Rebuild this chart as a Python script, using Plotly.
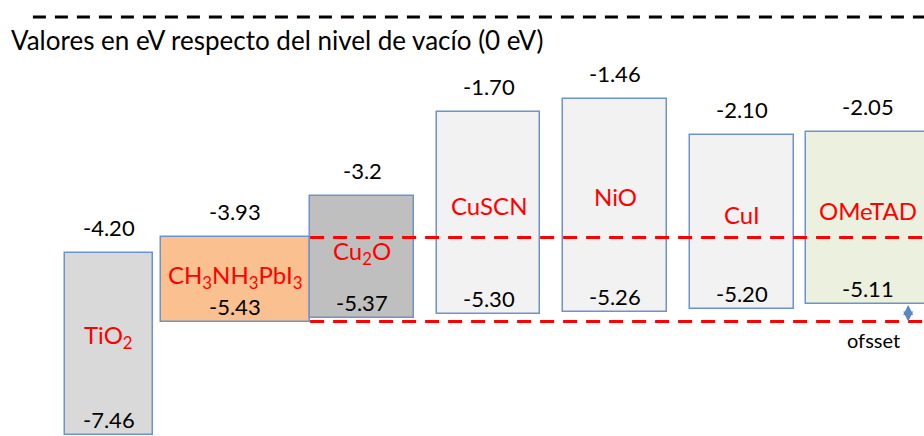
import plotly.graph_objects as go

# ------- Energy levels (eV, vs vacuum) ------- #
materials = ["TiO2", "CH3NH3PbI3", "Cu2O", "CuSCN", "NiO", "CuI", "OMeTAD"]
names = ["TiO<sub>2</sub>", "CH<sub>3</sub>NH<sub>3</sub>PbI<sub>3</sub>", "Cu<sub>2</sub>O",
         "CuSCN", "NiO", "CuI", "OMeTAD"]
lumo = [-4.20, -3.93, -3.2, -1.70, -1.46, -2.10, -2.05]
homo = [-7.46, -5.43, -5.37, -5.30, -5.26, -5.20, -5.11]
lumo_txt = ["-4.20", "-3.93", "-3.2", "-1.70", "-1.46", "-2.10", "-2.05"]
homo_txt = ["-7.46", "-5.43", "-5.37", "-5.30", "-5.26", "-5.20", "-5.11"]

# styles
fills = ["#d9d9d9", "#fac090", "#bfbfbf", "#f2f2f2", "#f2f2f2", "#f2f2f2", "#ebf1de"]
widths = [0.70, 1.18, 0.82, 0.82, 0.82, 0.82, 0.99]
FONT = "Lato"
x_min, x_max = -0.86, 6.44
y_min, y_max = -7.47, 0.303

fig = go.Figure()
fig.add_trace(go.Bar(
    x=list(range(len(materials))),
    y=[l - h for l, h in zip(lumo, homo)],
    base=homo,
    width=widths,
    marker=dict(color=fills, line=dict(color="#6c94cc", width=1.5)),
    hovertext=materials,
    hoverinfo="text",
    showlegend=False,
))

ann = []
for i in range(len(materials)):
    # LUMO value above the box
    ann.append(dict(x=i, y=lumo[i], text=lumo_txt[i], showarrow=False,
                    yanchor="bottom", yshift=10, font=dict(size=22, color="black")))
    # HOMO value inside, at the bottom
    ann.append(dict(x=i, y=homo[i], text=homo_txt[i], showarrow=False,
                    yanchor="bottom", yshift=0, font=dict(size=22, color="black")))
    # material name, about the middle of the box
    ann.append(dict(x=i, y=lumo[i] + 0.46 * (homo[i] - lumo[i]), text=names[i],
                    showarrow=False, font=dict(size=24, color="red")))

# title
ann.append(dict(xref="paper", x=0, xshift=9, y=0, yanchor="top", yshift=-5,
                xanchor="left", text="Valores en eV respecto del nivel de vacío (0 eV)",
                showarrow=False, font=dict(size=26, color="black")))

# offset arrow between OMeTAD HOMO and perovskite HOMO
ax_x = 6.315
ann.append(dict(x=ax_x, y=homo[1], ax=ax_x, ay=homo[6], xref="x", yref="y",
                axref="x", ayref="y", text="", showarrow=True, arrowhead=2,
                arrowside="end+start", arrowsize=0.8, arrowwidth=2.5, arrowcolor="#5b87c0"))
ann.append(dict(x=ax_x, y=homo[1], xanchor="right", yanchor="top", xshift=-6, yshift=-4,
                text="ofsset", showarrow=False, font=dict(size=20, color="black")))

edge = 1 + widths[1] / 2
shapes = [
    # vacuum level
    dict(type="line", x0=-0.6, x1=x_max, y0=0, y1=0, xref="x", yref="y",
         line=dict(color="black", width=3, dash="13px,9px")),
    # perovskite band edges
    dict(type="line", x0=edge, x1=x_max, y0=lumo[1], y1=lumo[1], xref="x", yref="y",
         line=dict(color="red", width=3, dash="14px,9px")),
    dict(type="line", x0=edge, x1=x_max, y0=homo[1], y1=homo[1], xref="x", yref="y",
         line=dict(color="red", width=3, dash="14px,9px")),
]

fig.update_layout(
    width=924, height=436,
    margin=dict(l=0, r=0, t=0, b=0),
    paper_bgcolor="white", plot_bgcolor="white",
    font=dict(family=FONT),
    xaxis=dict(range=[x_min, x_max], visible=False),
    yaxis=dict(range=[y_min, y_max], visible=False),
    annotations=ann, shapes=shapes,
    bargap=0,
)

fig.write_html("out.html", config={"displayModeBar": False},
               post_script="document.body.style.margin='0';")
